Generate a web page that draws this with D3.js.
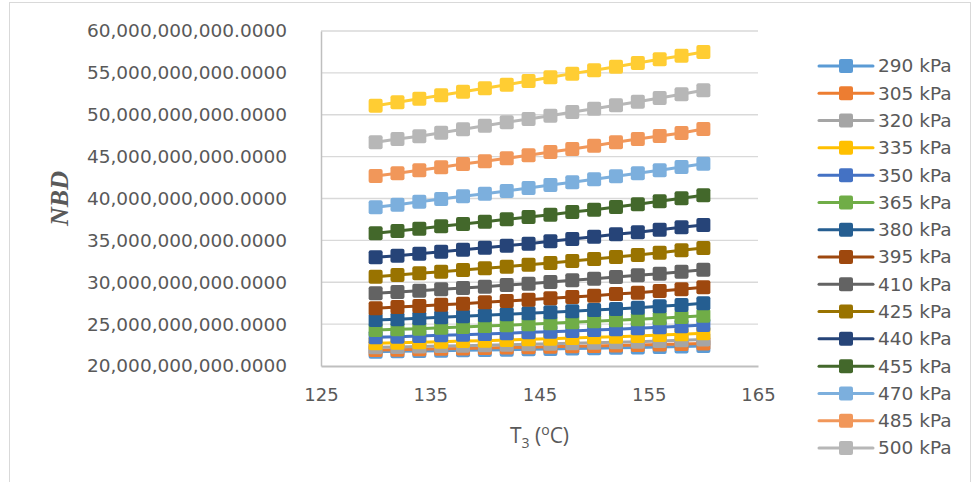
<!DOCTYPE html>
<html><head><meta charset="utf-8">
<script src="https://cdn.jsdelivr.net/npm/d3@7"></script>
<style>body{margin:0;background:#fff}svg{display:block}</style>
</head><body>
<svg id="chart" width="975" height="482"></svg>
<script>
const xValues = [130,132,134,136,138,140,142,144,146,148,150,152,154,156,158,160];
const seriesNames = ["290 kPa","305 kPa","320 kPa","335 kPa","350 kPa","365 kPa","380 kPa","395 kPa","410 kPa","425 kPa","440 kPa","455 kPa","470 kPa","485 kPa","500 kPa","515 kPa"];
const seriesColors = ["#5B9BD5","#ED7D31","#A5A5A5","#FFC000","#4472C4","#70AD47","#255E91","#9E480E","#636363","#997300","#264478","#43682B","#7CAFDD","#F1975A","#B7B7B7","#FFCD33"];
// values in units of 1e9
const s290 = [21.71,21.75,21.79,21.83,21.87,21.91,21.95,21.99,22.03,22.08,22.12,22.17,22.22,22.27,22.33,22.39];
const s305 = [21.91,21.95,22.00,22.05,22.10,22.15,22.20,22.25,22.30,22.35,22.40,22.45,22.51,22.57,22.62,22.68];
const s320 = [22.23,22.28,22.33,22.38,22.43,22.48,22.53,22.59,22.65,22.71,22.77,22.83,22.90,22.98,23.06,23.16];
const s335 = [22.71,22.78,22.83,22.90,22.99,23.02,23.10,23.18,23.26,23.34,23.43,23.50,23.58,23.70,23.78,23.90];
const s350 = [23.43,23.50,23.58,23.66,23.74,23.82,23.90,24.02,24.10,24.18,24.30,24.38,24.50,24.62,24.74,24.90];
const s365 = [24.30,24.38,24.46,24.57,24.66,24.78,24.86,24.98,25.10,25.22,25.34,25.46,25.58,25.69,25.85,26.01];
const s380 = [25.49,25.58,25.69,25.81,25.93,26.05,26.17,26.29,26.41,26.53,26.69,26.81,26.96,27.13,27.28,27.49];
const s395 = [26.89,27.04,27.16,27.32,27.44,27.61,27.76,27.92,28.08,28.24,28.39,28.60,28.75,28.96,29.16,29.40];
const s410 = [28.68,28.84,28.99,29.16,29.31,29.47,29.67,29.83,30.03,30.23,30.42,30.63,30.83,31.02,31.26,31.50];
const s425 = [30.66,30.87,31.07,31.26,31.46,31.67,31.86,32.10,32.30,32.54,32.78,33.01,33.25,33.53,33.81,34.09];
const s440 = [32.98,33.17,33.41,33.65,33.89,34.13,34.36,34.60,34.89,35.16,35.44,35.72,35.96,36.27,36.56,36.84];
const s455 = [35.84,36.12,36.39,36.68,36.96,37.23,37.52,37.79,38.07,38.39,38.66,38.99,39.31,39.67,40.02,40.38];
const s470 = [38.95,39.26,39.62,39.94,40.26,40.57,40.90,41.25,41.61,41.93,42.29,42.65,43.01,43.37,43.76,44.16];
const s485 = [42.69,43.01,43.37,43.73,44.12,44.44,44.80,45.16,45.55,45.91,46.30,46.71,47.10,47.46,47.82,48.30];
const s500 = [46.71,47.10,47.43,47.86,48.26,48.69,49.10,49.49,49.89,50.33,50.72,51.13,51.56,52.00,52.44,52.92];
const s515 = [51.08,51.49,51.92,52.33,52.75,53.16,53.59,54.03,54.48,54.91,55.31,55.74,56.18,56.62,57.05,57.49];
const seriesValues = [s290,s305,s320,s335,s350,s365,s380,s395,s410,s425,s440,s455,s470,s485,s500,s515];
const xTicks = [125,135,145,155,165];
const yTicks = [20,25,30,35,40,45,50,55,60];
const legendCount = 15; // the legend in the reference is clipped after 500 kPa

const svg = d3.select("#chart");
const x = d3.scaleLinear().domain([125,165]).range([321,758]);
const y = d3.scaleLinear().domain([20,60]).range([366,31]);
const font = "'DejaVu Sans', sans-serif";
const textCol = "#595959";

// chart border
svg.append("rect").attr("x",9.5).attr("y",2.5).attr("width",961).attr("height",500)
  .attr("fill","none").attr("stroke","#D9D9D9").attr("stroke-width",1);

// gridlines
svg.append("g").selectAll("line").data(yTicks.slice(1)).join("line")
  .attr("x1",x(125)).attr("x2",x(165)).attr("y1",d=>y(d)).attr("y2",d=>y(d))
  .attr("stroke","#D9D9D9").attr("stroke-width",1.3);

// axes
const fmtY = d => d3.format(",")(d*1e9) + ".0000";
const yAxis = svg.append("g").attr("transform",`translate(${x(125)},0)`)
  .call(d3.axisLeft(y).tickValues(yTicks).tickFormat(fmtY).tickSize(0).tickPadding(34));
yAxis.select(".domain").attr("stroke","#BFBFBF").attr("stroke-width",1.5);
yAxis.selectAll("text").attr("font-family",font).attr("font-size",18.5).attr("fill",textCol);

const xAxis = svg.append("g").attr("transform",`translate(0,${y(20)})`)
  .call(d3.axisBottom(x).tickValues(xTicks).tickFormat(d3.format("d")).tickSize(0).tickPadding(22));
xAxis.select(".domain").attr("stroke","#BFBFBF").attr("stroke-width",2);
xAxis.selectAll("text").attr("font-family",font).attr("font-size",18).attr("fill",textCol);

// series
const line = d3.line().x((d,i)=>x(xValues[i])).y(d=>y(d));
const ms = 14;
seriesValues.forEach((vals,si)=>{
  const g = svg.append("g");
  g.append("path").attr("d",line(vals)).attr("fill","none")
    .attr("stroke",seriesColors[si]).attr("stroke-width",3).attr("stroke-linejoin","round");
  g.selectAll("rect").data(vals).join("rect")
    .attr("x",(d,i)=>x(xValues[i])-ms/2).attr("y",d=>y(d)-ms/2)
    .attr("width",ms).attr("height",ms).attr("rx",2)
    .attr("fill",seriesColors[si]);
});

// axis titles
svg.append("text").attr("transform",`translate(68,${(y(20)+y(60))/2}) rotate(-90)`)
  .attr("text-anchor","middle").attr("font-family","'Liberation Serif', 'Times New Roman', serif")
  .attr("font-weight","bold").attr("font-style","italic").attr("font-size",26).attr("fill",textCol)
  .text("NBD");

const xt = svg.append("text").attr("x",(x(125)+x(165))/2).attr("y",443)
  .attr("text-anchor","middle").attr("font-family","'Open Sans', 'Liberation Sans', sans-serif")
  .attr("font-size",21).attr("fill",textCol);
xt.append("tspan").text("T");
xt.append("tspan").attr("font-size",14).attr("dy",5).text("3");
xt.append("tspan").attr("dy",-5).text(" (");
xt.append("tspan").attr("font-size",14).attr("dy",-8).text("o");
xt.append("tspan").attr("dy",8).text("C)");

// legend
const lg = svg.append("g");
const legItems = seriesNames.slice(0,legendCount).map((n,i)=>({name:n,color:seriesColors[i],i}));
const ly = d3.scaleLinear().domain([0,14]).range([66,448]);
const li = lg.selectAll("g").data(legItems).join("g").attr("transform",d=>`translate(0,${ly(d.i)})`);
li.append("line").attr("x1",819).attr("x2",873).attr("y1",0).attr("y2",0)
  .attr("stroke",d=>d.color).attr("stroke-width",3).attr("stroke-linecap","round");
li.append("rect").attr("x",846-ms/2).attr("y",-ms/2).attr("width",ms).attr("height",ms).attr("rx",2)
  .attr("fill",d=>d.color);
li.append("text").attr("x",878).attr("y",0).attr("dy","0.35em")
  .attr("font-family",font).attr("font-size",18.5).attr("fill",textCol).text(d=>d.name);
</script>
</body></html>
